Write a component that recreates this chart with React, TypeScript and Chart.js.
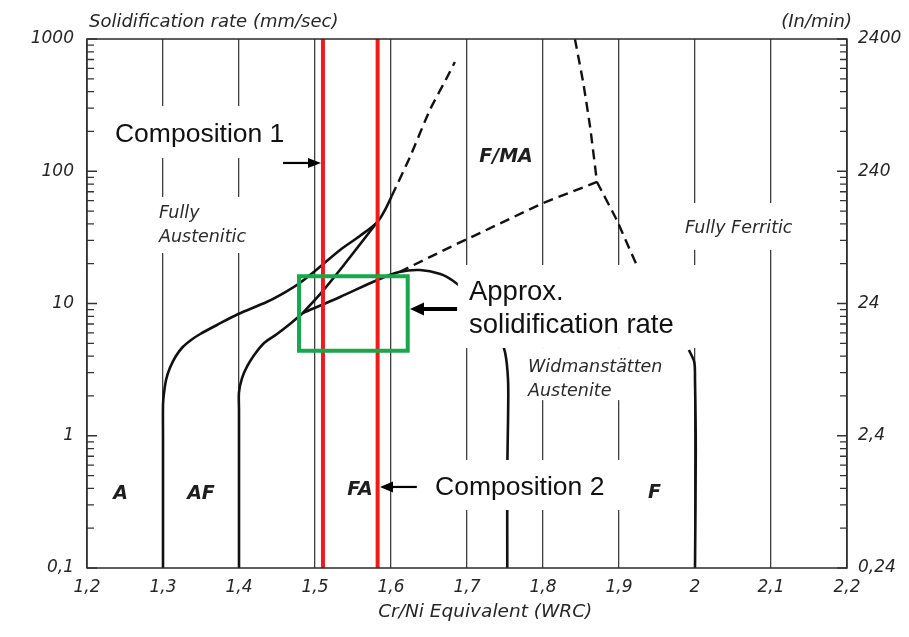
import React, { useEffect, useRef } from 'react';
import { Chart, registerables } from 'chart.js';

Chart.register(...registerables);

// ---------- axes ----------
const xTickValues = [1.2, 1.3, 1.4, 1.5, 1.6, 1.7, 1.8, 1.9, 2.0, 2.1, 2.2];
const xTickLabels = ['1,2', '1,3', '1,4', '1,5', '1,6', '1,7', '1,8', '1,9', '2', '2,1', '2,2'];
const leftDecades = [0.1, 1, 10, 100, 1000];
const leftTickLabels = ['0,1', '1', '10', '100', '1000'];
const rightDecades = [0.24, 2.4, 24, 240, 2400];
const rightTickLabels = ['0,24', '2,4', '24', '240', '2400'];

// ---------- boundary curves (x = Cr/Ni eq WRC, y = solidification rate mm/s) ----------
// A / AF boundary (solid)
const aAfX = [1.30, 1.30, 1.30, 1.301, 1.304, 1.309, 1.317, 1.326, 1.337, 1.349, 1.371, 1.399, 1.437, 1.461, 1.480, 1.500, 1.533, 1.559, 1.582, 1.592, 1.601];
const aAfY = [0.1, 1.0, 1.71, 2.03, 2.64, 3.25, 4.01, 4.69, 5.30, 5.88, 6.88, 8.33, 10.3, 12.2, 14.3, 17.6, 25.4, 32.4, 41.3, 50.9, 65.0];
// its dashed continuation
const aAfDashX = [1.601, 1.625, 1.651, 1.674, 1.684];
const aAfDashY = [65.0, 128, 290, 516, 670];
// AF / FA boundary (solid)
const afFaX = [1.40, 1.40, 1.40, 1.40, 1.404, 1.411, 1.420, 1.433, 1.450, 1.467, 1.484];
const afFaY = [0.1, 1.0, 1.57, 2.14, 2.73, 3.37, 4.08, 5.03, 5.88, 7.0, 8.47];
// steep upper branch (solid)
const faUpperX = [1.484, 1.509, 1.538, 1.582];
const faUpperY = [8.47, 12.2, 19.55, 41.3];
// lower branch bending down into the 1.75 boundary (solid)
const faLowerX = [1.484, 1.533, 1.582, 1.611, 1.638, 1.665, 1.682, 1.701, 1.724, 1.741, 1.750, 1.754, 1.754, 1.753, 1.753];
const faLowerY = [8.47, 11.2, 15.06, 17.3, 17.9, 16.7, 14.8, 12.0, 8.62, 5.98, 4.30, 2.64, 1.32, 0.55, 0.1];
// F/MA lower boundary (dashed)
const fmaLowerX = [1.611, 1.678, 1.80, 1.871];
const fmaLowerY = [17.3, 26.7, 57.5, 83.0];
// F/MA right boundary (dashed), upper and lower part
const fmaTopX = [1.842, 1.853, 1.862, 1.871];
const fmaTopY = [1000, 465, 216, 83.0];
const fmaBottomX = [1.871, 1.897, 1.924, 1.954, 1.992];
const fmaBottomY = [83.0, 42.8, 19.2, 9.74, 4.45];
// F boundary (solid)
const fBoundX = [1.992, 1.999, 2.0, 2.001, 2.0];
const fBoundY = [4.45, 3.61, 2.64, 0.78, 0.1];

// compositions (red lines) and rate window (green box)
const compositionX = [1.5105, 1.5824];
const rateRange = [0.1, 1000];
const windowX = [1.479, 1.622];
const windowY = [4.4, 16.1];

// ---------- annotations (data coordinates) ----------
const whiteBoxes = [
  { x0: 1.217, x1: 1.476, y0: 126, y1: 311 },
  { x0: 1.688, x1: 2.022, y0: 4.61, y1: 19.55 },
  { x0: 1.6447, x1: 1.9276, y0: 0.2746, y1: 0.656 },
  { x0: 1.2895, x1: 1.417, y0: 24.1, y1: 63.9 },
  { x0: 1.98, x1: 2.135, y0: 25.4, y1: 57.5 },
  { x0: 1.7724, x1: 1.9645, y0: 1.86, y1: 4.6 },
];

const SANS = '"Liberation Sans", Arial, sans-serif';
const DJ = '"DejaVu Sans", sans-serif';

const texts = [
  { t: 'Composition 1', x: 1.2368, y: 166.4, align: 'left', font: `26.5px ${SANS}`, color: '#111' },
  { t: 'Approx.', x: 1.7026, y: 10.6, align: 'left', font: `27.5px ${SANS}`, color: '#111' },
  { t: 'solidification rate', x: 1.7026, y: 5.98, align: 'left', font: `27.5px ${SANS}`, color: '#111' },
  { t: 'Composition 2', x: 1.6579, y: 0.356, align: 'left', font: `26.5px ${SANS}`, color: '#111' },
  { t: 'Fully', x: 1.2947, y: 44.3, align: 'left', font: `italic 17.5px ${DJ}`, color: '#2a2a2a' },
  { t: 'Austenitic', x: 1.2947, y: 29.2, align: 'left', font: `italic 17.5px ${DJ}`, color: '#2a2a2a' },
  { t: 'Fully Ferritic', x: 1.9868, y: 34.1, align: 'left', font: `italic 17.5px ${DJ}`, color: '#2a2a2a' },
  { t: 'Widmanstätten', x: 1.7803, y: 3.03, align: 'left', font: `italic 17.5px ${DJ}`, color: '#2a2a2a' },
  { t: 'Austenite', x: 1.7803, y: 2.0, align: 'left', font: `italic 17.5px ${DJ}`, color: '#2a2a2a' },
  { t: 'A', x: 1.2441, y: 0.3324, align: 'center', font: `italic bold 19px ${DJ}`, color: '#1e1e1e' },
  { t: 'AF', x: 1.35, y: 0.3324, align: 'center', font: `italic bold 19px ${DJ}`, color: '#1e1e1e' },
  { t: 'FA', x: 1.5592, y: 0.356, align: 'center', font: `italic bold 19px ${DJ}`, color: '#1e1e1e' },
  { t: 'F', x: 1.9467, y: 0.3384, align: 'center', font: `italic bold 19px ${DJ}`, color: '#1e1e1e' },
  { t: 'F/MA', x: 1.7513, y: 117.5, align: 'center', font: `italic bold 19px ${DJ}`, color: '#1e1e1e' },
];

const arrows = [
  { x0: 1.458, x1: 1.5079, y: 115.5, w: 2.2, head: 13, headW: 10 },
  { x0: 1.687, x1: 1.625, y: 9.09, w: 4.2, head: 14, headW: 13 },
  { x0: 1.634, x1: 1.5855, y: 0.41, w: 2.2, head: 13, headW: 11 },
];

const tickFont = { family: 'DejaVu Sans', style: 'italic' as const, size: 17 };
const tickColor = '#262626';

const decadeIndex = (v: number, decades: number[]) =>
  decades.findIndex((d) => Math.abs(Math.log10(v) - Math.log10(d)) < 1e-6);

const logTicks = (decades: number[]) => {
  const out: number[] = [];
  for (let i = 0; i < decades.length - 1; i++) {
    for (let k = 1; k <= 9; k++) out.push(decades[i] * k);
  }
  out.push(decades[decades.length - 1]);
  return out;
};

const pts = (xs: number[], ys: number[]) => xs.map((x, i) => ({ x, y: ys[i] }));

const overlayPlugin = {
  id: 'overlay',
  beforeDraw(chart: any) {
    const { ctx, width, height } = chart;
    ctx.save();
    ctx.fillStyle = '#ffffff';
    ctx.fillRect(0, 0, width, height);
    ctx.restore();
  },
  afterDatasetsDraw(chart: any) {
    const { ctx, chartArea: ca, scales } = chart;
    const xs = scales.x;
    const ys = scales.y;
    const y2 = scales.y2;
    const px = (v: number) => xs.getPixelForValue(v);
    const py = (v: number) => ys.getPixelForValue(v);
    ctx.save();

    // white label backgrounds
    ctx.fillStyle = '#ffffff';
    for (const b of whiteBoxes) {
      const l = px(b.x0);
      const r = px(b.x1);
      const t = py(b.y1);
      const bt = py(b.y0);
      ctx.fillRect(l, t, r - l, bt - t);
    }

    // texts
    ctx.textBaseline = 'alphabetic';
    for (const tx of texts) {
      ctx.font = tx.font;
      ctx.fillStyle = tx.color;
      ctx.textAlign = tx.align;
      ctx.fillText(tx.t, px(tx.x), py(tx.y));
    }

    // arrows
    ctx.fillStyle = '#000';
    ctx.strokeStyle = '#000';
    for (const a of arrows) {
      const sx = px(a.x0);
      const tx = px(a.x1);
      const yy = py(a.y);
      const dir = tx > sx ? 1 : -1;
      ctx.lineWidth = a.w;
      ctx.beginPath();
      ctx.moveTo(sx, yy);
      ctx.lineTo(tx - dir * (a.head - 1), yy);
      ctx.stroke();
      ctx.beginPath();
      ctx.moveTo(tx, yy);
      ctx.lineTo(tx - dir * a.head, yy - a.headW / 2);
      ctx.lineTo(tx - dir * a.head, yy + a.headW / 2);
      ctx.closePath();
      ctx.fill();
    }

    // outside titles
    ctx.fillStyle = '#262626';
    ctx.font = `italic 18px ${DJ}`;
    ctx.textAlign = 'left';
    ctx.fillText('Solidification rate (mm/sec)', ca.left + 2, ca.top - 12);
    ctx.textAlign = 'right';
    ctx.fillText('(In/min)', ca.right + 5, ca.top - 12);
    ctx.font = `italic 18.5px ${DJ}`;
    ctx.textAlign = 'center';
    ctx.fillText('Cr/Ni Equivalent (WRC)', px(1.724), ca.bottom + 49);

    // frame
    ctx.strokeStyle = '#2b2b2b';
    ctx.lineWidth = 1.5;
    ctx.strokeRect(ca.left, ca.top, ca.right - ca.left, ca.bottom - ca.top);

    // inward tick marks
    ctx.lineWidth = 1.3;
    ctx.strokeStyle = '#333';
    ctx.beginPath();
    for (const t of ys.ticks) {
      const p = ys.getPixelForValue(t.value);
      const len = decadeIndex(t.value, leftDecades) >= 0 ? 10 : 7;
      ctx.moveTo(ca.left, p);
      ctx.lineTo(ca.left + len, p);
    }
    for (const t of y2.ticks) {
      const p = y2.getPixelForValue(t.value);
      const len = decadeIndex(t.value, rightDecades) >= 0 ? 10 : 7;
      ctx.moveTo(ca.right, p);
      ctx.lineTo(ca.right - len, p);
    }
    ctx.stroke();

    ctx.restore();
  },
};

export default function App() {
  const ref = useRef<HTMLCanvasElement | null>(null);

  useEffect(() => {
    if (!ref.current) return;
    const solid = {
      borderColor: '#111111',
      borderWidth: 2.6,
      tension: 0.3,
      pointRadius: 0,
      fill: false,
      order: 3,
    };
    const dashed = { ...solid, borderDash: [10, 6], borderWidth: 2.4, tension: 0.15 };
    const datasets: any[] = [
      { ...solid, data: pts(aAfX, aAfY) },
      { ...dashed, data: pts(aAfDashX, aAfDashY) },
      { ...solid, data: pts(afFaX, afFaY) },
      { ...solid, data: pts(faUpperX, faUpperY) },
      { ...solid, data: pts(faLowerX, faLowerY) },
      { ...dashed, tension: 0, data: pts(fmaLowerX, fmaLowerY) },
      { ...dashed, data: pts(fmaTopX, fmaTopY) },
      { ...dashed, data: pts(fmaBottomX, fmaBottomY) },
      { ...solid, data: pts(fBoundX, fBoundY) },
      ...compositionX.map((cx) => ({
        data: [{ x: cx, y: rateRange[0] }, { x: cx, y: rateRange[1] }],
        borderColor: '#f21b1b',
        borderWidth: 4,
        tension: 0,
        pointRadius: 0,
        fill: false,
        order: 1,
      })),
      {
        data: [
          { x: windowX[0], y: windowY[1] },
          { x: windowX[1], y: windowY[1] },
          { x: windowX[1], y: windowY[0] },
          { x: windowX[0], y: windowY[0] },
          { x: windowX[0], y: windowY[1] },
        ],
        borderColor: '#1aa64a',
        borderWidth: 4,
        borderJoinStyle: 'miter',
        borderCapStyle: 'square',
        tension: 0,
        pointRadius: 0,
        fill: false,
        order: 0,
      },
    ];

    const chart = new Chart(ref.current, {
      type: 'line',
      data: { datasets },
      options: {
        responsive: false,
        animation: false,
        layout: { padding: { top: 39, left: 0, right: 0, bottom: 0 } },
        plugins: {
          legend: { display: false },
          tooltip: { enabled: false },
          title: { display: false },
        },
        elements: { point: { radius: 0 } },
        scales: {
          x: {
            type: 'linear',
            min: 1.2,
            max: 2.2,
            afterBuildTicks: (s: any) => {
              s.ticks = xTickValues.map((v) => ({ value: v }));
            },
            afterFit: (s: any) => {
              s.height = 69;
            },
            ticks: {
              callback: (_v: any, i: number) => xTickLabels[i],
              font: tickFont,
              color: tickColor,
              padding: 9,
              maxRotation: 0,
              autoSkip: false,
            },
            grid: { color: '#3f3f3f', lineWidth: 1.3, drawTicks: false, tickLength: 0 },
            border: { display: false },
          },
          y: {
            type: 'logarithmic',
            position: 'left',
            min: 0.1,
            max: 1000,
            afterBuildTicks: (s: any) => {
              s.ticks = logTicks(leftDecades).map((v) => ({ value: v }));
            },
            afterFit: (s: any) => {
              s.width = 87;
            },
            ticks: {
              callback: (v: any) => {
                const i = decadeIndex(Number(v), leftDecades);
                return i >= 0 ? leftTickLabels[i] : '';
              },
              font: tickFont,
              color: tickColor,
              padding: 13,
              autoSkip: false,
            },
            grid: { display: false, drawTicks: false, tickLength: 0 },
            border: { display: false },
          },
          y2: {
            type: 'logarithmic',
            position: 'right',
            min: 0.24,
            max: 2400,
            afterBuildTicks: (s: any) => {
              s.ticks = logTicks(rightDecades).map((v) => ({ value: v }));
            },
            afterFit: (s: any) => {
              s.width = 62;
            },
            ticks: {
              callback: (v: any) => {
                const i = decadeIndex(Number(v), rightDecades);
                return i >= 0 ? rightTickLabels[i] : '';
              },
              font: tickFont,
              color: tickColor,
              padding: 11,
              autoSkip: false,
            },
            grid: { display: false, drawTicks: false, tickLength: 0 },
            border: { display: false },
          },
        },
      } as any,
      plugins: [overlayPlugin],
    });
    return () => chart.destroy();
  }, []);

  return (
    <div style={{ position: 'fixed', left: 0, top: 0, width: 909, height: 637, background: '#fff' }}>
      <canvas ref={ref} width={909} height={637} style={{ display: 'block', width: 909, height: 637 }} />
    </div>
  );
}
